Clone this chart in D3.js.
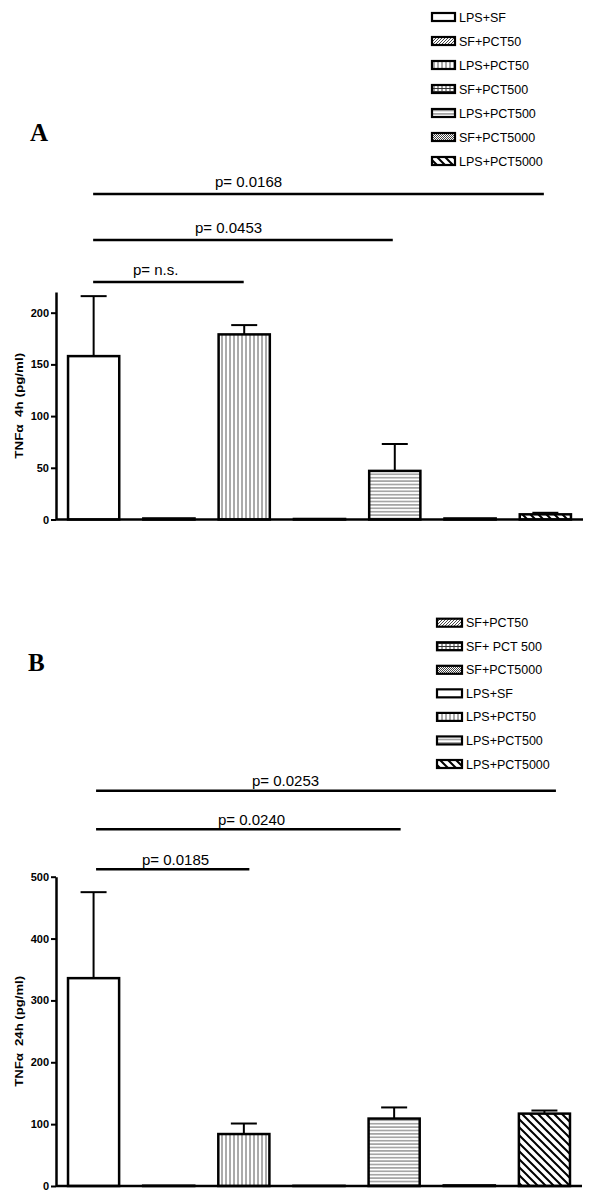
<!DOCTYPE html>
<html>
<head>
<meta charset="utf-8">
<script src="https://cdn.jsdelivr.net/npm/d3@7"></script>
<style>
  html, body { margin: 0; padding: 0; background: #fff; }
  svg { display: block; }
  text { font-family: "Liberation Sans", Arial, Helvetica, sans-serif; fill: #000; }
</style>
</head>
<body>
<script>
// ---------------- DATA ----------------
const categories = ["LPS+SF", "SF+PCT50", "LPS+PCT50", "SF+PCT500", "LPS+PCT500", "SF+PCT5000", "LPS+PCT5000"];
const patternsByCategory = ["none", "diagFine", "vert", "grid", "horiz", "cross", "diagBack"];

// Panel A: TNFα 4h (pg/ml)
const valuesA = [158, 1, 179, 0.5, 47, 1, 5];
const semA    = [58, 0, 9, 0, 26, 0, 1.5];
const ticksA  = [0, 50, 100, 150, 200];
const legendA = ["LPS+SF", "SF+PCT50", "LPS+PCT50", "SF+PCT500", "LPS+PCT500", "SF+PCT5000", "LPS+PCT5000"];
const legendLabelsA = ["LPS+SF", "SF+PCT50", "LPS+PCT50", "SF+PCT500", "LPS+PCT500", "SF+PCT5000", "LPS+PCT5000"];
const sigFromA  = [0, 0, 0];
const sigToA    = [2, 4, 6];
const sigTextA  = ["p= n.s.", "p= 0.0453", "p= 0.0168"];

// Panel B: TNFα 24h (pg/ml)
const valuesB = [336, 0.5, 84, 0.3, 109, 1, 117];
const semB    = [139, 0, 17, 0, 18, 0, 5];
const ticksB  = [0, 100, 200, 300, 400, 500];
const legendB = ["SF+PCT50", "SF+PCT500", "SF+PCT5000", "LPS+SF", "LPS+PCT50", "LPS+PCT500", "LPS+PCT5000"];
const legendLabelsB = ["SF+PCT50", "SF+ PCT 500", "SF+PCT5000", "LPS+SF", "LPS+PCT50", "LPS+PCT500", "LPS+PCT5000"];
const sigFromB  = [0, 0, 0];
const sigToB    = [2, 4, 6];
const sigTextB  = ["p= 0.0185", "p= 0.0240", "p= 0.0253"];

// ---------------- SVG + PATTERNS ----------------
const svg = d3.select("body").append("svg").attr("width", 600).attr("height", 1201);
const defs = svg.append("defs");

function pat(id, w, h) {
  return defs.append("pattern").attr("id", id).attr("patternUnits", "userSpaceOnUse")
    .attr("width", w).attr("height", h);
}
// vertical lines
pat("vert", 4, 4).append("line").attr("x1", 2).attr("x2", 2).attr("y1", -1).attr("y2", 5)
  .attr("stroke", "#555").attr("stroke-width", 1);
// horizontal lines
pat("horiz", 4, 3.4).append("line").attr("x1", -1).attr("x2", 5).attr("y1", 1.7).attr("y2", 1.7)
  .attr("stroke", "#666").attr("stroke-width", 1);
// diagonal "\" lines (bold)
pat("diagBack", 8, 8).append("path").attr("d", "M-2,-2 L10,10 M-2,6 L2,10 M6,-2 L10,2")
  .attr("stroke", "#000").attr("stroke-width", 2).attr("fill", "none");
// fine diagonal "/" lines
pat("diagFine", 3, 3).append("path").attr("d", "M-1,4 L4,-1 M-1,1 L1,-1 M2,4 L4,2")
  .attr("stroke", "#333").attr("stroke-width", 0.9).attr("fill", "none");
// grid
const g = pat("grid", 4, 3);
g.append("line").attr("x1", 2).attr("x2", 2).attr("y1", -1).attr("y2", 4).attr("stroke", "#333").attr("stroke-width", 1);
g.append("line").attr("x1", -1).attr("x2", 5).attr("y1", 1.5).attr("y2", 1.5).attr("stroke", "#333").attr("stroke-width", 1);
// fine cross / checker
const c = pat("cross", 2, 2);
c.append("rect").attr("width", 2).attr("height", 2).attr("fill", "#fff");
c.append("rect").attr("width", 1).attr("height", 1).attr("fill", "#444");
c.append("rect").attr("x", 1).attr("y", 1).attr("width", 1).attr("height", 1).attr("fill", "#444");

function fillFor(cat) {
  const p = patternsByCategory[categories.indexOf(cat)];
  return p === "none" ? "#fff" : `url(#${p})`;
}

// ---------------- PANEL DRAWER ----------------
function drawPanel(cfg) {
  const x = d3.scaleBand().domain(d3.range(categories.length))
    .range([cfg.x0, cfg.x1]).paddingInner(0.32).paddingOuter(0.16);
  const y = d3.scaleLinear().domain([0, cfg.max]).range([cfg.yBottom, cfg.yTop]);
  const G = svg.append("g");

  // panel letter
  G.append("text").attr("x", cfg.letterX).attr("y", cfg.letterY)
    .style("font-family", "'Liberation Serif', 'Times New Roman', serif")
    .style("font-weight", "bold").style("font-size", "25px").text(cfg.letter);

  // legend
  const lg = G.append("g");
  cfg.legend.forEach((cat, i) => {
    const yy = cfg.legY0 + i * cfg.legStep;
    lg.append("rect").attr("x", cfg.legX).attr("y", yy - 4).attr("width", cfg.legW).attr("height", 8)
      .attr("fill", fillFor(cat)).attr("stroke", "#000").attr("stroke-width", 2.2);
    lg.append("text").attr("x", cfg.legX + cfg.legW + 4).attr("y", yy + 4.5)
      .style("font-size", "12.5px").style("white-space", "pre").text(cfg.legendLabels[i]);
  });

  // significance lines
  cfg.sigFrom.forEach((f, i) => {
    const xa = x(f) + x.bandwidth() / 2 + cfg.sigShift0;
    const xb = x(cfg.sigTo[i]) + x.bandwidth() / 2 + cfg.sigShift1[i];
    G.append("line").attr("x1", xa).attr("x2", xb).attr("y1", cfg.sigY[i]).attr("y2", cfg.sigY[i])
      .attr("stroke", "#000").attr("stroke-width", 2.5);
    G.append("text").attr("x", cfg.sigTextX[i]).attr("y", cfg.sigY[i] - cfg.sigGap)
      .style("font-size", "15px").text(cfg.sigText[i]);
  });

  // bars
  const idx = d3.range(categories.length);
  G.selectAll("rect.bar").data(idx).join("rect").attr("class", "bar")
    .attr("x", i => x(i)).attr("width", x.bandwidth())
    .attr("y", i => y(cfg.values[i]))
    .attr("height", i => y(0) - y(cfg.values[i]))
    .attr("fill", i => fillFor(categories[i]))
    .attr("stroke", "#000").attr("stroke-width", 2.5);

  // error bars (upper only)
  idx.filter(i => cfg.sem[i] > 0).forEach(i => {
    const cx = x(i) + x.bandwidth() / 2;
    G.append("line").attr("x1", cx).attr("x2", cx)
      .attr("y1", y(cfg.values[i])).attr("y2", y(cfg.values[i] + cfg.sem[i]))
      .attr("stroke", "#000").attr("stroke-width", 2);
    G.append("line").attr("x1", cx - 13).attr("x2", cx + 13)
      .attr("y1", y(cfg.values[i] + cfg.sem[i])).attr("y2", y(cfg.values[i] + cfg.sem[i]))
      .attr("stroke", "#000").attr("stroke-width", 2);
  });

  // x axis line
  G.append("line").attr("x1", cfg.x0).attr("x2", cfg.x1).attr("y1", y(0)).attr("y2", y(0))
    .attr("stroke", "#000").attr("stroke-width", 2.5);

  // y axis
  const ax = G.append("g").attr("transform", `translate(${cfg.x0},0)`)
    .call(d3.axisLeft(y).tickValues(cfg.ticks).tickSize(5).tickSizeOuter(0).tickPadding(2));
  ax.select(".domain").attr("stroke", "#000").attr("stroke-width", 2.5);
  ax.selectAll(".tick line").attr("stroke", "#000").attr("stroke-width", 2);
  ax.selectAll(".tick text").style("font-family", "'Liberation Sans', Arial, sans-serif")
    .style("font-weight", "bold").style("font-size", "11px").attr("fill", "#000");

  // y axis label
  const midY = (cfg.yTop + cfg.yBottom) / 2;
  G.append("text").attr("transform", `translate(${cfg.labelX},${midY}) rotate(-90)`)
    .attr("text-anchor", "middle")
    .attr("textLength", cfg.labelLen).attr("lengthAdjust", "spacingAndGlyphs")
    .style("white-space", "pre")
    .style("font-weight", "bold").style("font-size", "11px").text(cfg.label);
}

drawPanel({
  letter: "A", letterX: 30, letterY: 141,
  x0: 56, x1: 583, yTop: 292, yBottom: 519.5, max: 220,
  values: valuesA, sem: semA, ticks: ticksA,
  legend: legendA, legendLabels: legendLabelsA,
  legX: 432, legW: 23, legY0: 17, legStep: 24,
  sigFrom: sigFromA, sigTo: sigToA, sigText: sigTextA,
  sigY: [282, 240, 194], sigTextX: [133, 195, 215], sigGap: 7,
  sigShift0: -0.5, sigShift1: [-0.5, -2, -1.5],
  label: "TNFα  4h (pg/ml)", labelX: 23, labelLen: 106
});

drawPanel({
  letter: "B", letterX: 28, letterY: 671,
  x0: 56, x1: 582, yTop: 876.7, yBottom: 1186, max: 500,
  values: valuesB, sem: semB, ticks: ticksB,
  legend: legendB, legendLabels: legendLabelsB,
  legX: 437, legW: 25, legY0: 622.7, legStep: 23.55,
  sigFrom: sigFromB, sigTo: sigToB, sigText: sigTextB,
  sigY: [869.3, 829.3, 790.7], sigTextX: [142, 218, 252], sigGap: 4.5,
  sigShift0: 2.5, sigShift1: [5.5, 6.5, 11.5],
  label: "TNFα  24h (pg/ml)", labelX: 23, labelLen: 111
});
</script>
</body>
</html>
